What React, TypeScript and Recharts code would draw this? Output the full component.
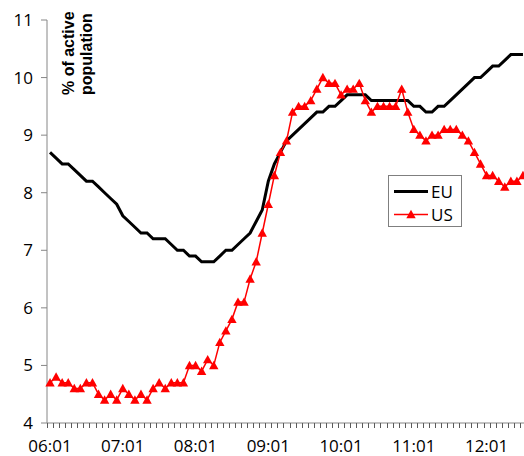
import React from 'react';
import { LineChart, Line, XAxis, YAxis, Legend } from 'recharts';

// Monthly unemployment, Jan 2006 .. Jul 2012 (% of active population)
const euValues: number[] = [
  8.7, 8.6, 8.5, 8.5, 8.4, 8.3, 8.2, 8.2, 8.1, 8.0, 7.9, 7.8,
  7.6, 7.5, 7.4, 7.3, 7.3, 7.2, 7.2, 7.2, 7.1, 7.0, 7.0, 6.9,
  6.9, 6.8, 6.8, 6.8, 6.9, 7.0, 7.0, 7.1, 7.2, 7.3, 7.5, 7.7,
  8.2, 8.5, 8.7, 8.9, 9.0, 9.1, 9.2, 9.3, 9.4, 9.4, 9.5, 9.5,
  9.6, 9.7, 9.7, 9.7, 9.7, 9.6, 9.6, 9.6, 9.6, 9.6, 9.6, 9.6,
  9.5, 9.5, 9.4, 9.4, 9.5, 9.5, 9.6, 9.7, 9.8, 9.9, 10.0, 10.0,
  10.1, 10.2, 10.2, 10.3, 10.4, 10.4, 10.4,
];

const usValues: number[] = [
  4.7, 4.8, 4.7, 4.7, 4.6, 4.6, 4.7, 4.7, 4.5, 4.4, 4.5, 4.4,
  4.6, 4.5, 4.4, 4.5, 4.4, 4.6, 4.7, 4.6, 4.7, 4.7, 4.7, 5.0,
  5.0, 4.9, 5.1, 5.0, 5.4, 5.6, 5.8, 6.1, 6.1, 6.5, 6.8, 7.3,
  7.8, 8.3, 8.7, 8.9, 9.4, 9.5, 9.5, 9.6, 9.8, 10.0, 9.9, 9.9,
  9.7, 9.8, 9.8, 9.9, 9.6, 9.4, 9.5, 9.5, 9.5, 9.5, 9.8, 9.4,
  9.1, 9.0, 8.9, 9.0, 9.0, 9.1, 9.1, 9.1, 9.0, 8.9, 8.7, 8.5,
  8.3, 8.3, 8.2, 8.1, 8.2, 8.2, 8.3,
];

const xTickLabels: string[] = ['06:01', '07:01', '08:01', '09:01', '10:01', '11:01', '12:01'];
const yTicks: number[] = [4, 5, 6, 7, 8, 9, 10, 11];
const seriesNames = { eu: 'EU', us: 'US' };

const data = euValues.map((eu, i) => ({ idx: i, eu, us: usValues[i] }));
const n = data.length;
const xDomain: [number, number] = [-0.5, n - 0.5];
const monthTicks = data.map((d) => d.idx);

const AXIS = '#868686';
const MARK = '#5a5a5a';
const FONT = '"Open Sans", sans-serif';
const MARK_LEN = 5;
const LABEL_GAP = 17;

const Triangle = (props: any) => {
  const { cx, cy, index } = props;
  if (cx == null || cy == null) return <g key={`t-${index}`} />;
  return (
    <polygon
      key={`t-${index}`}
      points={`${cx},${cy - 4.7} ${cx + 4.7},${cy + 3.7} ${cx - 4.7},${cy + 3.7}`}
      fill="#FF0000"
      stroke="none"
    />
  );
};

// One tick per month: a mark on the boundary between months, and a label on each January.
const MonthTick = (props: any) => {
  const { x, y, payload, width } = props;
  const axisWidth = typeof width === 'number' && width > 0 ? width : 479;
  const half = axisWidth / n / 2;
  const xm = Math.round(Number(x) - half);
  const y0 = Number(y);
  const v = payload?.value;
  const label = v % 12 === 0 ? xTickLabels[v / 12] : null;
  return (
    <g>
      <rect x={xm} y={y0} width={1} height={MARK_LEN} fill={MARK} shapeRendering="crispEdges" />
      {label && (
        <text x={x} y={y0 + LABEL_GAP} dy="0.71em" textAnchor="middle" fill="#000" fontSize={17} fontFamily={FONT}>
          {label}
        </text>
      )}
    </g>
  );
};

const renderLegend = (props: any) => {
  const payload = props.payload || [];
  return (
    <div
      style={{
        width: 74,
        height: 52,
        boxSizing: 'border-box',
        border: '1px solid #7f7f7f',
        background: '#fff',
        padding: '4px 0 0 5px',
        fontFamily: FONT,
        fontSize: 17,
        color: '#000',
      }}
    >
      {payload.map((entry: any) => {
        const isUS = entry.dataKey === 'us';
        return (
          <div key={entry.value} style={{ display: 'flex', alignItems: 'center', height: 23 }}>
            <svg width={34} height={23} style={{ display: 'block' }}>
              <line x1={0} y1={11.5} x2={34} y2={11.5} stroke={entry.color} strokeWidth={isUS ? 1.5 : 3} />
              {isUS && <polygon points="17,6.8 21.7,15.2 12.3,15.2" fill="#FF0000" />}
            </svg>
            <span style={{ marginLeft: 3, lineHeight: '23px' }}>{entry.value}</span>
          </div>
        );
      })}
    </div>
  );
};

const YTitle = () => (
  <text
    transform="translate(66,87) rotate(-90)"
    fontFamily='"Liberation Sans", Arial, sans-serif'
    fontWeight="bold"
    fontSize={16}
    fill="#000"
    textAnchor="start"
  >
    <tspan x={0} y={0}>% of active</tspan>
    <tspan x={0} y={17.5}>population</tspan>
  </text>
);

export default function App() {
  return (
    <div style={{ position: 'absolute', left: 8, top: 8, width: 516, height: 448, overflow: 'hidden' }}>
      <LineChart
        width={518}
        height={448}
        data={data}
        margin={{ top: 12, right: 0, bottom: 0, left: 0 }}
        style={{ fontFamily: FONT }}
      >
        <XAxis
          dataKey="idx"
          type="number"
          domain={xDomain}
          ticks={monthTicks}
          interval={0}
          height={33}
          tickSize={0}
          tickMargin={0}
          axisLine={{ stroke: AXIS, strokeWidth: 1 }}
          tickLine={false}
          tick={<MonthTick />}
        />
        <YAxis
          type="number"
          domain={[4, 11]}
          ticks={yTicks}
          interval={0}
          width={39}
          tickSize={6}
          tickMargin={8}
          axisLine={{ stroke: AXIS, strokeWidth: 1 }}
          tickLine={{ stroke: AXIS, strokeWidth: 1 }}
          tick={{ fill: '#000', fontSize: 17, fontFamily: FONT }}
          label={<YTitle />}
        />
        <Legend
          layout="horizontal"
          align="center"
          verticalAlign="middle"
          content={renderLegend}
          wrapperStyle={{ position: 'absolute', left: 380, top: 167, width: 74, height: 52 }}
        />
        <Line
          type="linear"
          dataKey="eu"
          name={seriesNames.eu}
          stroke="#000000"
          strokeWidth={3}
          dot={false}
          activeDot={false}
          isAnimationActive={false}
        />
        <Line
          type="linear"
          dataKey="us"
          name={seriesNames.us}
          stroke="#FF0000"
          strokeWidth={1.5}
          dot={Triangle}
          activeDot={false}
          isAnimationActive={false}
        />
      </LineChart>
    </div>
  );
}
